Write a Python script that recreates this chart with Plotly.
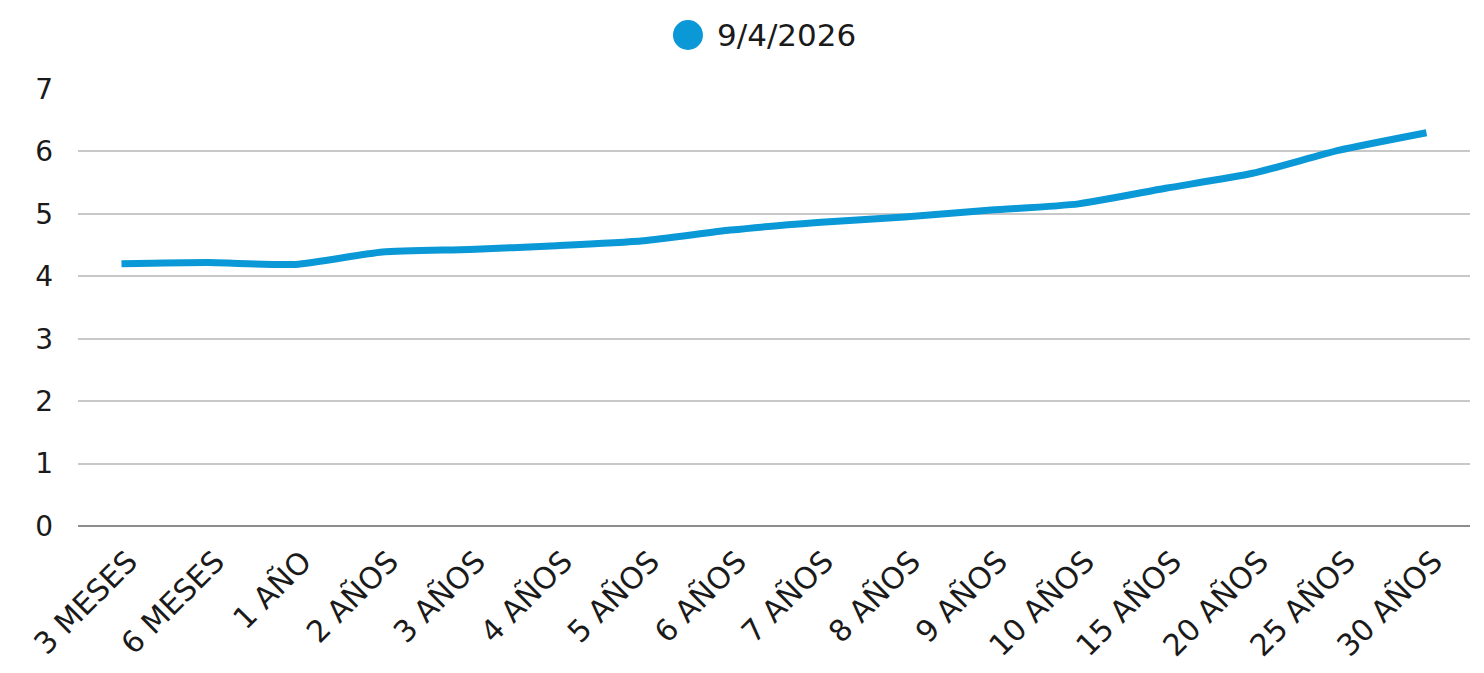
import plotly.graph_objects as go

categories = ["3 MESES", "6 MESES", "1 AÑO", "2 AÑOS", "3 AÑOS", "4 AÑOS", "5 AÑOS",
              "6 AÑOS", "7 AÑOS", "8 AÑOS", "9 AÑOS", "10 AÑOS", "15 AÑOS",
              "20 AÑOS", "25 AÑOS", "30 AÑOS"]
yields = [4.20, 4.22, 4.19, 4.39, 4.43, 4.49, 4.57, 4.74, 4.86, 4.95, 5.06, 5.16,
          5.41, 5.65, 6.02, 6.30]
series_name = "9/4/2026"
y_ticks = [0, 1, 2, 3, 4, 5, 6, 7]

color = "#0a98d6"
font_family = "DejaVu Sans, sans-serif"

fig = go.Figure()
fig.add_trace(go.Scatter(
    x=categories, y=yields, mode="lines", name=series_name,
    line=dict(color=color, width=7, shape="spline", smoothing=0.6),
    showlegend=False,
))

# legend (circle + label) placed above the plot area
legend_x = 0.4382
legend_y = 1.1236
fig.add_shape(type="circle", xref="paper", yref="paper",
              xsizemode="pixel", ysizemode="pixel",
              xanchor=legend_x, yanchor=legend_y,
              x0=-15, x1=15, y0=-15, y1=15,
              fillcolor=color, line=dict(width=0))
fig.add_annotation(text=series_name, xref="paper", yref="paper",
                   x=0.4575, y=legend_y, xanchor="left", yanchor="middle",
                   showarrow=False, font=dict(size=31, color="#1a1a1a"))

fig.update_layout(
    width=1484, height=673,
    margin=dict(l=70, r=22, t=81, b=155),
    paper_bgcolor="white", plot_bgcolor="white",
    font=dict(family=font_family, size=26, color="#1a1a1a"),
    showlegend=False,
    xaxis=dict(type="category", tickangle=-45, showgrid=False, showline=False,
               ticks="", tickfont=dict(size=30), range=[-0.5, len(categories) - 0.5],
               automargin=False, ticklabelstandoff=11, ticklabelshift=7),
    yaxis=dict(range=[0, 7], tickvals=y_ticks, showgrid=True, gridcolor="#c8c8c8",
               gridwidth=1.5, zeroline=True, zerolinecolor="#8c8c8c", zerolinewidth=1.5,
               showline=False, ticks="", tickfont=dict(size=28), ticklabelstandoff=24,
               automargin=False),
)

fig.write_html("out.html")
